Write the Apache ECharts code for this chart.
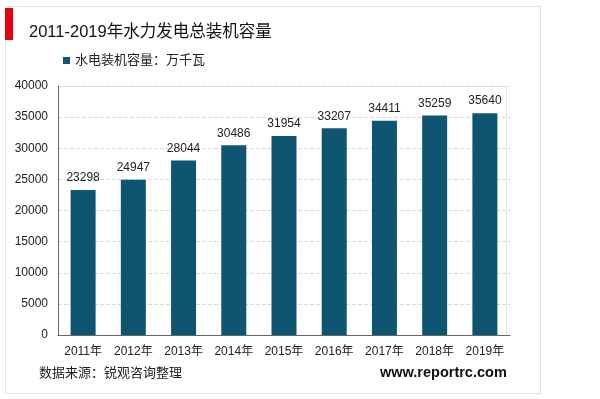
<!DOCTYPE html>
<html>
<head>
<meta charset="utf-8">
<script src="https://cdn.jsdelivr.net/npm/echarts@6/dist/echarts.min.js"></script>
<style>
  html, body { margin: 0; padding: 0; background: #fff; }
  #chart { width: 600px; height: 399px; }
</style>
</head>
<body>
<div id="chart"></div>
<script>
var years = ['2011年', '2012年', '2013年', '2014年', '2015年', '2016年', '2017年', '2018年', '2019年'];
var capacity = [23298, 24947, 28044, 30486, 31954, 33207, 34411, 35259, 35640];
var seriesName = '水电装机容量：万千瓦';

var myChart = echarts.init(document.getElementById('chart'));
var font = '"Liberation Sans", "Noto Sans CJK SC", sans-serif';
var option = {
  backgroundColor: '#fff',
  textStyle: { fontFamily: font },
  graphic: [
    // 外框
    { type: 'rect', shape: { x: 5.5, y: 6.5, width: 535, height: 387 }, style: { fill: 'none', stroke: '#e2e2e2', lineWidth: 1 } },
    // 红色标记
    { type: 'rect', shape: { x: 5, y: 8, width: 8, height: 32 }, style: { fill: '#e60012' } },
    // 绘图区边框
    { type: 'rect', shape: { x: 58.5, y: 86.5, width: 448, height: 249 }, style: { fill: 'none', stroke: '#e6e6e6', lineWidth: 1 }, z: -1 },
    { type: 'text', left: 39, top: 367, style: { text: '数据来源：锐观咨询整理', fontSize: 13, fill: '#222', fontFamily: font } },
    { type: 'text', left: 380, top: 366, style: { text: 'www.reportrc.com', fontSize: 14.5, fontWeight: 'bold', fill: '#111', fontFamily: font } }
  ],
  title: {
    text: '2011-2019年水力发电总装机容量',
    left: 24, top: 19,
    textStyle: { fontSize: 16.5, fontWeight: 'normal', color: '#111', fontFamily: font }
  },
  legend: {
    left: 58, top: 49,
    itemWidth: 7, itemHeight: 7, itemGap: 3,
    icon: 'rect',
    textStyle: { fontSize: 13, color: '#222', fontFamily: font },
    data: [seriesName]
  },
  grid: { left: 58, right: 90, top: 86, bottom: 64 },
  xAxis: {
    type: 'category',
    data: years,
    axisLine: { lineStyle: { color: '#666' } },
    axisTick: { show: false },
    axisLabel: { color: '#222', fontSize: 12, margin: 11, interval: 0 }
  },
  yAxis: {
    type: 'value',
    min: 0, max: 40000, interval: 5000,
    axisLine: { show: true, lineStyle: { color: '#666' } },
    axisTick: { show: false },
    axisLabel: { color: '#222', fontSize: 12, margin: 10, formatter: function (v) { return String(v); } },
    splitLine: { lineStyle: { color: '#d9d9d9', type: 'dashed' } }
  },
  series: [{
    name: seriesName,
    type: 'bar',
    data: capacity,
    barWidth: 25,
    itemStyle: { color: '#0e5572' },
    label: { show: true, position: 'top', color: '#222', fontSize: 12, distance: 6 }
  }]
};
myChart.setOption(option);
</script>
</body>
</html>
